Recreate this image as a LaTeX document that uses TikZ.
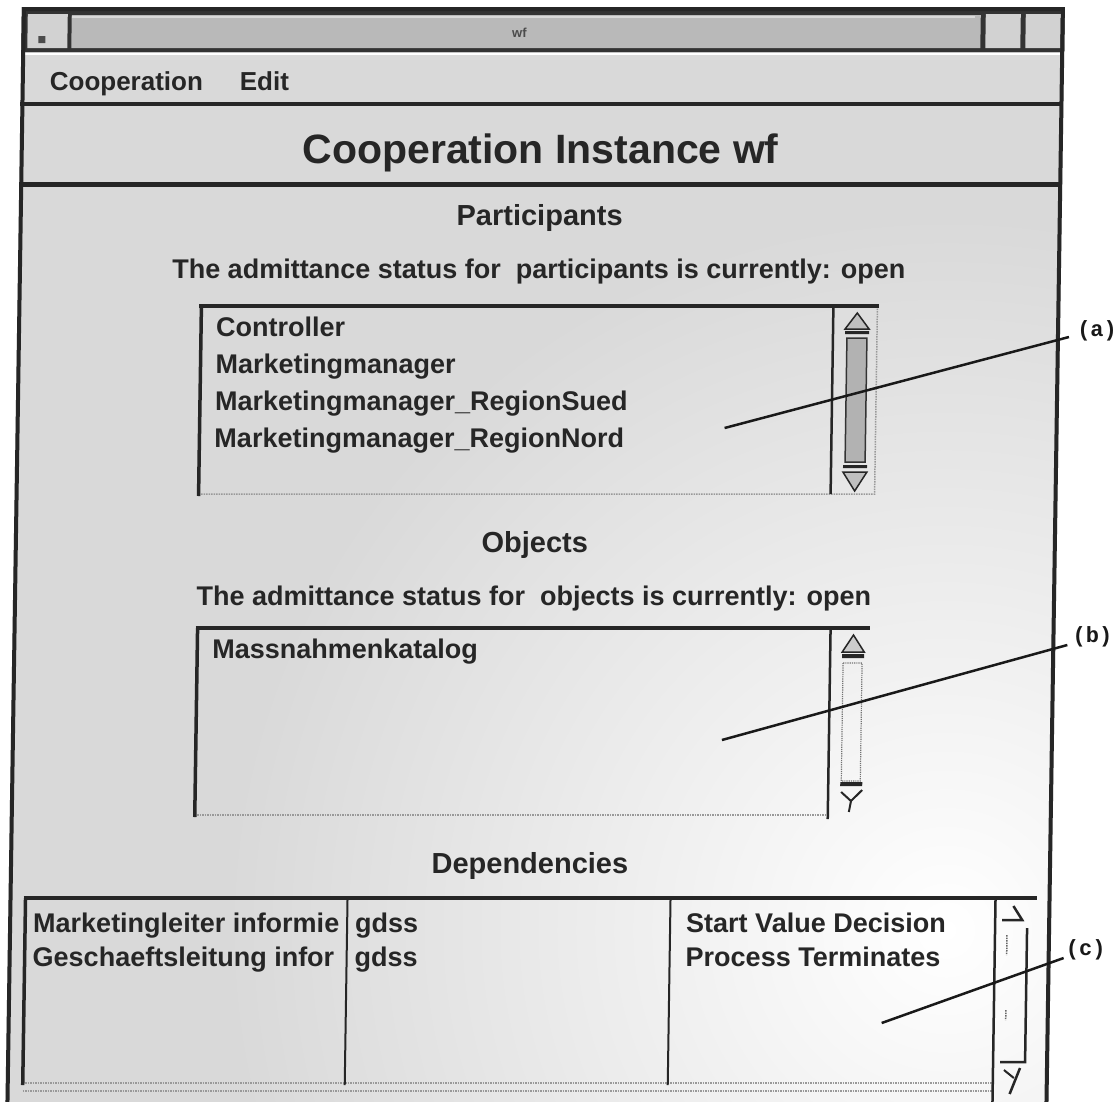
\documentclass[tikz,border=0pt]{standalone}
\usepackage{fontspec}
\setmainfont{Liberation Sans}
\setmonofont{Liberation Mono}
\begin{document}
\begin{tikzpicture}[x=1pt,y=-1pt,
  txt/.style={font=\fontsize{27}{30}\selectfont\bfseries, inner sep=0pt, anchor=base west, text=black!85},
  menu/.style={font=\fontsize{26}{29}\selectfont\bfseries, inner sep=0pt, anchor=base west, text=black!85},
  hd/.style={font=\fontsize{29}{32}\selectfont\bfseries, inner sep=0pt, anchor=base, text=black!85},
  ctr/.style={font=\fontsize{27}{30}\selectfont\bfseries, inner sep=0pt, anchor=base, text=black!85},
  lbl/.style={font=\fontsize{22}{24}\selectfont\ttfamily\bfseries, inner sep=0pt, anchor=west, text=black!90},
  leader/.style={line width=2.5pt, black!90},
  heavy/.style={line width=3.5pt, black!85},
  faint/.style={line width=1.5pt, black!40, densely dotted},
  arrowfill/.style={fill=gray!50, draw=black!85, line width=1.5pt},
  ]
\useasboundingbox (0,0) rectangle (1118,1101);
\fill[white] (0,0) rectangle (1118,1101);
\begin{scope}
\clip (0,0) rectangle (1118,1101);
\begin{scope}[xslant=0.015]
  % window body
  \fill[gray!30] (22,7) rectangle (1065,1115);
  \begin{scope}
    \clip (22,187) rectangle (1065,1115);
    \shade[inner color=white, outer color=gray!30] (960,930) circle [radius=720pt];
  \end{scope}
  % title strip
  \fill[black!80] (22,7) rectangle (1065,52);
  \fill[gray!35] (28,14) rectangle (68,48);
  \fill[black!70] (39,36) rectangle (46,43);
  \fill[gray!55] (72,15) rectangle (981,48);
  \draw[gray!30, line width=1.5pt] (72,17) -- (975,17);
  \fill[gray!35] (986,14) rectangle (1021,48);
  \fill[gray!35] (1026,14) rectangle (1061,48);
  \node[font=\fontsize{13}{14}\selectfont\bfseries, text=black!70, inner sep=0pt, anchor=base] (wintitle) at (520,37) {wf};
  % menu bar and header
  \draw[white, line width=2pt] (24,54) -- (1063,54);
  \draw[line width=4pt, black!85] (22,104) -- (1065,104);
  \draw[line width=5pt, black!85] (22,184.5) -- (1065,184.5);
  % window frame
  \draw[line width=4pt, black!85] (24,1115) -- (24,9) -- (1063,9) -- (1063,1115);
  \node[menu] (mcoop) at (51,90) {Cooperation};
  \node[menu] (medit) at (241,90) {Edit};
  \node[font=\fontsize{41}{45}\selectfont\bfseries, text=black!85, inner sep=0pt, anchor=base] (title) at (543,163) {Cooperation Instance wf};

  % Participants
  \node[hd] (parthd) at (543,225) {Participants};
  \node[ctr] (partst) at (543,278) {The admittance status for~~participants is currently: open};
  \draw[faint] (206,494) -- (882,494) -- (882,306);
  \draw[heavy] (204,306) -- (884,306);
  \draw[heavy] (206,306) -- (206,496);
  \draw[line width=2.5pt, black!85] (838,306) -- (838,494);
  \draw[arrowfill] (862,313) -- (874,329) -- (850,329) -- cycle;
  \fill[black!85] (850,331) rectangle (874,334);
  \filldraw[fill=gray!60, draw=black!80, line width=1.5pt] (852,338) rectangle (872,462);
  \fill[black!85] (850,465) rectangle (874,468);
  \draw[arrowfill] (850,472) -- (874,472) -- (862,491) -- cycle;
  \node[txt] (p1) at (221,336) {Controller};
  \node[txt] (p2) at (221,373) {Marketingmanager};
  \node[txt] (p3) at (221,410) {Marketingmanager\_RegionSued};
  \node[txt] (p4) at (221,447) {Marketingmanager\_RegionNord};

  % Objects
  \node[hd] (objhd) at (543,552) {Objects};
  \node[ctr] (objst) at (543,605) {The admittance status for~~objects is currently: open};
  \draw[faint] (207,815) -- (840,815);
  \draw[heavy] (205,628) -- (879,628);
  \draw[heavy] (207,628) -- (207,817);
  \draw[line width=2.5pt, black!85] (840,628) -- (840,819);
  \draw[arrowfill, fill=gray!40] (863,635) -- (874,652) -- (852,652) -- cycle;
  \fill[black!85] (852,654) rectangle (874,658);
  \draw[black!55, line width=1.2pt, densely dotted] (853,663) rectangle (872,781);
  \fill[black!85] (852,782) rectangle (874,786);
  \draw[black!85, line width=2pt] (853,792) -- (863,801) -- (874,790);
  \draw[black!85, line width=2pt] (863,801) -- (861,812);
  \node[txt] (o1) at (222,658) {Massnahmenkatalog};

  % Dependencies
  \node[hd] (dephd) at (543,873) {Dependencies};
  \draw[faint] (39,1083) -- (1009,1083);
  \draw[faint] (39,1091) -- (1009,1091);
  \draw[heavy] (37,898) -- (1050,898);
  \draw[heavy] (39,898) -- (39,1085);
  \draw[line width=2pt, black!85] (361,898) -- (361,1085);
  \draw[line width=2pt, black!85] (684,898) -- (684,1085);
  \draw[line width=2.5pt, black!85] (1009,898) -- (1009,1115);
  \draw[black!85, line width=2.5pt] (1027,906) -- (1036,920) -- (1016,920);
  \draw[black!85, line width=2.5pt] (1041,928) -- (1041,1062) -- (1016,1062);
  \draw[black!60, line width=1.5pt, densely dotted] (1021,935) -- (1021,955);
  \draw[black!60, line width=1.5pt, densely dotted] (1021,1010) -- (1021,1020);
  \draw[black!85, line width=2.5pt] (1036,1068) -- (1026,1094);
  \draw[black!85, line width=2pt] (1020,1070) -- (1030,1078);
  \node[txt] (d11) at (47,932) {Marketingleiter informie};
  \node[txt] (d12) at (369,932) {gdss};
  \node[txt] (d13) at (700,932) {Start Value Decision};
  \node[txt] (d21) at (47,966) {Geschaeftsleitung infor};
  \node[txt] (d22) at (369,966) {gdss};
  \node[txt] (d23) at (700,966) {Process Terminates};

  % annotation labels
  \node[lbl] (la) at (1082,331) {(a)};
  \node[lbl] (lb) at (1082,637) {(b)};
  \node[lbl] (lc) at (1080,950) {(c)};
  \coordinate (ea) at (731,428);
  \coordinate (eb) at (733,740);
  \coordinate (ec) at (897,1023);
  \draw[leader] (ea) -- ([xshift=-8pt,yshift=-6pt]la.west);
  \draw[leader] (eb) -- ([xshift=-5pt,yshift=-8pt]lb.west);
  \draw[leader] (ec) -- ([xshift=-2pt,yshift=-8pt]lc.west);
\end{scope}
\end{scope}
\end{tikzpicture}
\end{document}
